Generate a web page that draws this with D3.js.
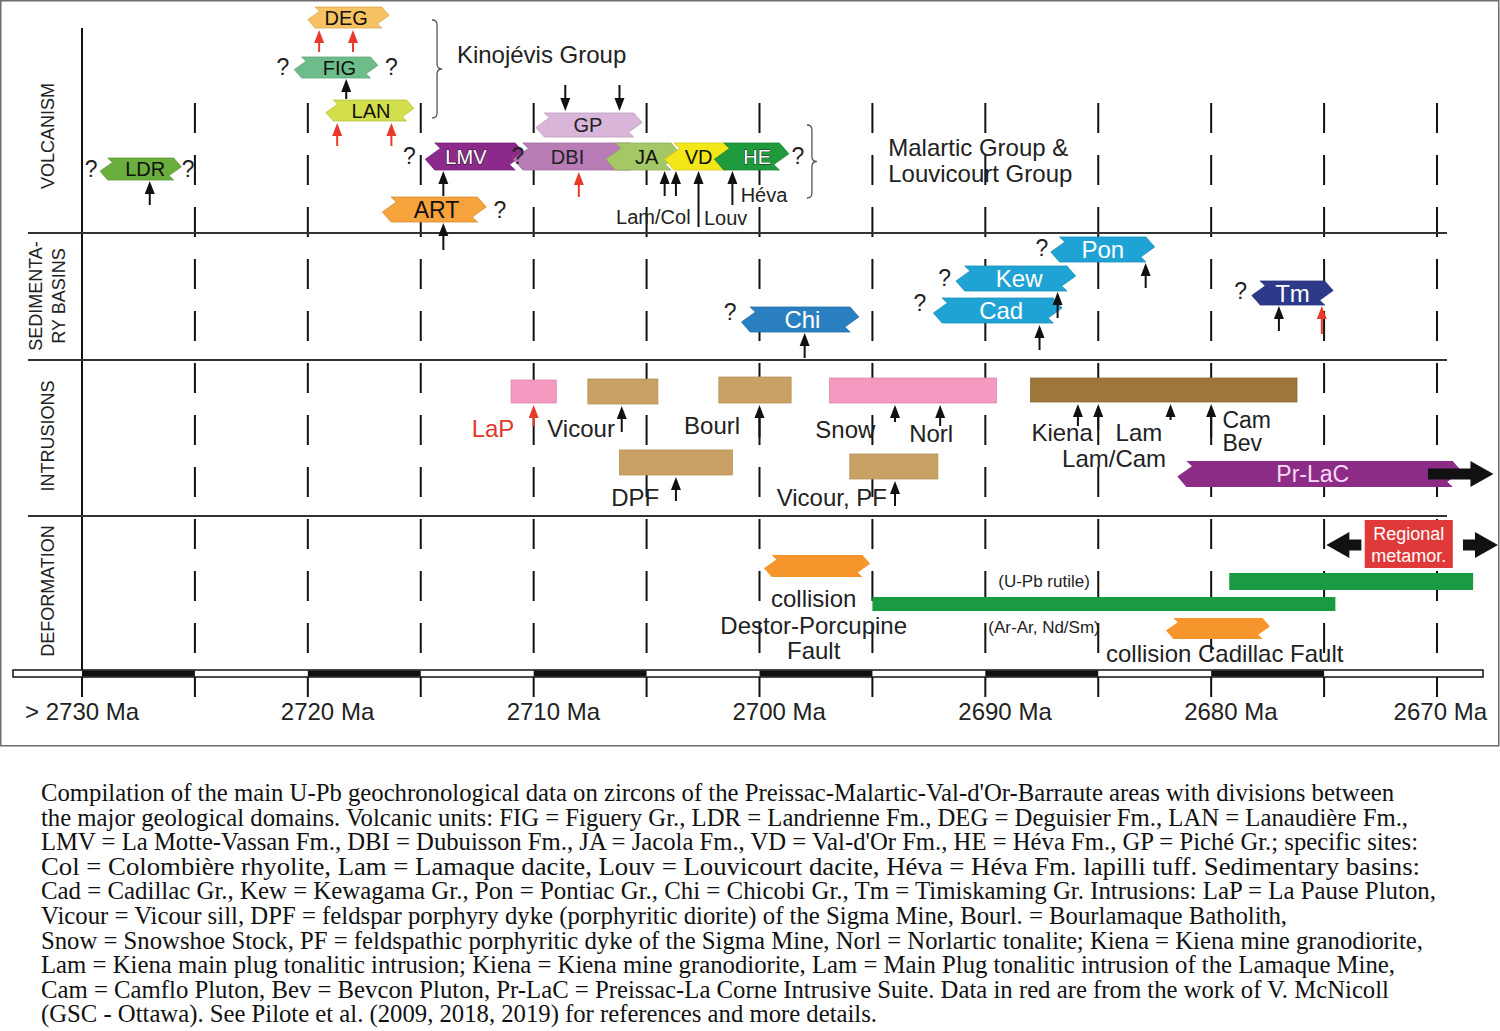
<!DOCTYPE html>
<html>
<head>
<meta charset="utf-8">
<script src="https://cdn.jsdelivr.net/npm/d3@7"></script>
<style>
  body { margin: 0; background: #fff; }
  svg { display: block; }
</style>
</head>
<body>
<div id="chart"></div>
<script>
// ---- data (ages in Ma) ----
var tickYears = [2730, 2725, 2720, 2715, 2710, 2705, 2700, 2695, 2690, 2685, 2680, 2675, 2670];
var labelYears = [2730, 2720, 2710, 2700, 2690, 2680, 2670];
var tickLabels = ["> 2730 Ma", "2720 Ma", "2710 Ma", "2700 Ma", "2690 Ma", "2680 Ma", "2670 Ma"];
var barStarts = [2730, 2720, 2710, 2700, 2690, 2680];

var domainNames = [["VOLCANISM"], ["SEDIMENTA-", "RY BASINS"], ["INTRUSIONS"], ["DEFORMATION"]];

// volcanic and sedimentary units
var unitNames = ["LDR", "DEG", "FIG", "LAN", "GP", "ART", "LMV", "DBI", "JA", "VD", "HE", "Chi", "Cad", "Kew", "Pon", "Tm"];
var unitStart = [2729.2, 2720.0, 2720.6, 2719.2, 2709.9, 2716.7, 2714.8, 2710.9, 2706.8, 2704.2, 2702.0, 2700.8, 2692.3, 2691.3, 2687.1, 2678.2];
var unitEnd   = [2725.6, 2716.4, 2716.9, 2715.3, 2705.2, 2712.1, 2710.4, 2705.3, 2703.5, 2701.1, 2698.7, 2695.6, 2686.6, 2686.0, 2682.5, 2674.6];
var unitLabelAge = [2727.2, 2718.3, 2718.6, 2717.2, 2707.6, 2714.3, 2713.0, 2708.5, 2705.0, 2702.7, 2700.1, 2698.1, 2689.3, 2688.5, 2684.8, 2676.4];

// intrusions (boxes)
var intrNames = ["LaP", "Vicour", "Bourl", "Snow/Norl", "DPF", "Vicour, PF", "Kiena/Lam/Cam/Bev"];
var intrStart = [2711.0, 2707.6, 2701.8, 2696.9, 2706.2, 2696.0, 2688.0];
var intrEnd   = [2709.0, 2704.5, 2698.6, 2689.5, 2701.2, 2692.1, 2676.2];
var prLaC = [2681.5, 2668.9];

// deformation events
var defNames = ["Destor-Porcupine collision", "Ar-Ar, Nd/Sm", "U-Pb rutile", "Cadillac collision"];
var defStart = [2699.8, 2695.0, 2679.2, 2682.0];
var defEnd   = [2695.1, 2674.5, 2668.4, 2677.4];
var metamor = [2673.2, 2669.3];

// dated samples (arrows); red = V. McNicoll data
var arrowAges = [2727.0, 2719.5, 2718.0, 2718.3, 2718.7, 2716.3, 2714.0, 2714.0, 2708.0, 2708.6, 2706.2,
                 2704.2, 2703.7, 2702.7, 2701.2,
                 2682.9, 2686.8, 2687.6, 2698.0, 2677.0, 2675.1,
                 2710.0, 2706.1, 2700.0, 2694.0, 2692.0, 2703.7, 2694.0, 2685.9, 2685.0, 2681.8, 2680.0];
var arrowRed  = [0, 1, 1, 0, 1, 1, 0, 0, 1, 0, 0,
                 0, 0, 0, 0,
                 0, 0, 0, 0, 0, 1,
                 1, 0, 0, 0, 0, 0, 0, 0, 0, 0, 0];

// "?" uncertain limits
var queryAges = [2729.6, 2725.3, 2721.1, 2716.3, 2715.5, 2710.7, 2698.3, 2711.5, 2687.5, 2691.8, 2692.9, 2701.3, 2678.7];

// text annotations: text, age
var notes = [
  ["Kinojévis Group", 2713.4], ["Malartic Group &", 2694.3], ["Louvicourt Group", 2694.3],
  ["Lam/Col", 2704.7], ["Louv", 2701.5], ["Héva", 2699.8],
  ["LaP", 2711.8], ["Vicour", 2707.9], ["Bourl", 2702.1], ["Snow", 2696.2], ["Norl", 2692.4],
  ["DPF", 2705.5], ["Vicour, PF", 2696.8], ["Kiena", 2686.6], ["Lam", 2683.2], ["Lam/Cam", 2684.3],
  ["Cam", 2679.5], ["Bev", 2679.5],
  ["collision", 2697.6], ["Destor-Porcupine", 2697.6], ["Fault", 2697.6],
  ["(U-Pb rutile)", 2687.4], ["(Ar-Ar, Nd/Sm)", 2687.4], ["collision Cadillac Fault", 2679.4]
];

var caption = [
  "Compilation of the main U-Pb geochronological data on zircons of the Preissac-Malartic-Val-d'Or-Barraute areas with divisions between",
  "the major geological domains. Volcanic units: FIG = Figuery Gr., LDR = Landrienne Fm., DEG = Deguisier Fm., LAN = Lanaudière Fm.,",
  "LMV = La Motte-Vassan Fm., DBI = Dubuisson Fm., JA = Jacola Fm., VD = Val-d'Or Fm., HE = Héva Fm., GP = Piché Gr.; specific sites:",
  "Col = Colombière rhyolite, Lam = Lamaque dacite, Louv = Louvicourt dacite, Héva = Héva Fm. lapilli tuff. Sedimentary basins:",
  "Cad = Cadillac Gr., Kew = Kewagama Gr., Pon = Pontiac Gr., Chi = Chicobi Gr.,  Tm = Timiskaming Gr. Intrusions: LaP = La Pause Pluton,",
  "Vicour = Vicour sill, DPF = feldspar porphyry dyke (porphyritic diorite) of the Sigma Mine, Bourl. = Bourlamaque Batholith,",
  "Snow = Snowshoe Stock, PF = feldspathic porphyritic dyke of the Sigma Mine, Norl = Norlartic tonalite; Kiena = Kiena mine granodiorite,",
  "Lam = Kiena main plug tonalitic intrusion; Kiena = Kiena mine granodiorite, Lam = Main Plug tonalitic intrusion of the Lamaque Mine,",
  "Cam = Camflo Pluton, Bev = Bevcon Pluton, Pr-LaC = Preissac-La Corne Intrusive Suite. Data in red are from the work of V. McNicoll",
  "(GSC - Ottawa). See Pilote et al. (2009, 2018, 2019) for references and more details."
];

// ---- layout ----
var width = 1500, height = 1031;
var font = "'Liberation Sans', Arial, sans-serif";
var domainY = [28, 233, 360, 516, 670];
var domainLabelPos = [[[54, 136]], [[42, 296], [65, 296]], [[54, 436]], [[54, 591]]];
var unitStyle = {
  LDR: {y: 158, h: 22, fill: "#6aae3d", color: "#111", size: 20},
  DEG: {y: 7, h: 21, fill: "#f7c262", color: "#111", size: 20},
  FIG: {y: 57, h: 21, fill: "#6dbd8a", color: "#111", size: 20},
  LAN: {y: 100, h: 21, fill: "#d2df4a", color: "#111", size: 20},
  GP:  {y: 113, h: 24, fill: "#dab5da", color: "#222", size: 20},
  ART: {y: 197, h: 25, fill: "#f6a33c", color: "#111", size: 23},
  LMV: {y: 143, h: 27, fill: "#8b2a8a", color: "#fff", size: 20, outline: true},
  DBI: {y: 143, h: 27, fill: "#b87db7", color: "#222", size: 20},
  JA:  {y: 143, h: 27, fill: "#a5c866", color: "#111", size: 20},
  VD:  {y: 143, h: 27, fill: "#f3e619", color: "#111", size: 20},
  HE:  {y: 143, h: 27, fill: "#1f9a3d", color: "#fff", size: 20, outline: true},
  Chi: {y: 307, h: 25, fill: "#2a7fc0", color: "#fff", size: 24},
  Cad: {y: 298, h: 25, fill: "#1fa3d4", color: "#fff", size: 24},
  Kew: {y: 266, h: 25, fill: "#1fa3d4", color: "#fff", size: 24},
  Pon: {y: 237, h: 25, fill: "#1fa3d4", color: "#fff", size: 24},
  Tm:  {y: 281, h: 24, fill: "#2d3a8a", color: "#fff", size: 24}
};
var intrStyle = [
  {y: 380, h: 23, fill: "#f49ac0"}, {y: 379, h: 25, fill: "#caa165"}, {y: 377, h: 26, fill: "#caa165"},
  {y: 378, h: 25, fill: "#f49ac0"}, {y: 450, h: 25, fill: "#caa165"}, {y: 454, h: 25, fill: "#caa165"},
  {y: 378, h: 24, fill: "#9d7739"}
];
var defStyle = [
  {y: 555, h: 22, fill: "#f5952b", tag: true}, {y: 597, h: 14, fill: "#1a9a43"},
  {y: 573, h: 17, fill: "#1a9a43"}, {y: 618, h: 21, fill: "#f5952b", tag: true}
];
// arrow tail / head y
var arrowY = [[205, 181], [52, 30], [52, 30], [99, 79], [146, 123], [146, 123], [196, 171], [250, 223], [197, 172], [85, 111], [85, 111],
              [196, 171], [196, 171], [227, 171], [205, 171],
              [288, 263], [318, 292], [350, 325], [358, 333], [331, 306], [334, 306],
              [426, 405], [432, 406], [437, 405], [422, 405], [426, 405], [501, 477], [506, 481], [426, 404], [430, 404], [420, 404], [437, 404]];
var queryY = [169, 169, 67, 67, 156, 156, 156, 210, 248, 278, 303, 312, 291];
var noteStyle = [
  {y: 54, a: "start", s: 24}, {y: 147, a: "start", s: 24}, {y: 173, a: "start", s: 24},
  {y: 217, a: "middle", s: 20}, {y: 218, a: "middle", s: 20}, {y: 195, a: "middle", s: 20},
  {y: 428, a: "middle", s: 24, c: "#e0392e"}, {y: 428, a: "middle", s: 24}, {y: 425, a: "middle", s: 24},
  {y: 429, a: "middle", s: 24}, {y: 433, a: "middle", s: 24},
  {y: 497, a: "middle", s: 24}, {y: 497, a: "middle", s: 24}, {y: 432, a: "middle", s: 24},
  {y: 432, a: "middle", s: 24}, {y: 458, a: "middle", s: 24}, {y: 420, a: "start", s: 23}, {y: 443, a: "start", s: 23},
  {y: 598, a: "middle", s: 24}, {y: 625, a: "middle", s: 24}, {y: 650, a: "middle", s: 24},
  {y: 581, a: "middle", s: 17}, {y: 627, a: "middle", s: 17}, {y: 653, a: "middle", s: 24}
];
var captionEnds = [1394, 1408, 1418, 1420, 1436, 1287, 1423, 1395, 1389, 877];

var svg = d3.select("#chart").append("svg")
  .attr("width", width)
  .attr("height", height)
  .style("font-family", font);

var x = d3.scaleLinear().domain([2730, 2670]).range([82, 1437]);

// outer frame
svg.append("rect")
  .attr("x", 0.75).attr("y", 0.75).attr("width", 1498).attr("height", 745)
  .attr("fill", "none").attr("stroke", "#6d6d6d").attr("stroke-width", 1.5);

// time lines
svg.append("g").selectAll("line")
  .data(tickYears)
  .enter()
  .append("line")
  .attr("x1", function (d) { return x(d); })
  .attr("x2", function (d) { return x(d); })
  .attr("y1", function (d, i) { return i === 0 ? 28 : 103; })
  .attr("y2", 697)
  .attr("stroke", "#111")
  .attr("stroke-width", 2)
  .attr("stroke-dasharray", function (d, i) { return i === 0 ? null : "30,22"; });

// domain dividers
svg.append("g").selectAll("line")
  .data(domainY.slice(1, 4))
  .enter()
  .append("line")
  .attr("x1", 28).attr("x2", 1447)
  .attr("y1", function (d) { return d; })
  .attr("y2", function (d) { return d; })
  .attr("stroke", "#333").attr("stroke-width", 2);

// domain labels
domainNames.forEach(function (lines, i) {
  lines.forEach(function (t, j) {
    var p = domainLabelPos[i][j];
    svg.append("text")
      .attr("transform", "translate(" + p[0] + "," + p[1] + ") rotate(-90)")
      .attr("text-anchor", "middle")
      .style("font-size", "18px")
      .style("fill", "#222")
      .text(t);
  });
});

// axis bar
svg.append("rect")
  .attr("x", 13).attr("y", 670).attr("width", 1470).attr("height", 7)
  .attr("fill", "#fff").attr("stroke", "#111").attr("stroke-width", 1.5);
svg.append("g").selectAll("rect")
  .data(barStarts)
  .enter()
  .append("rect")
  .attr("x", function (d) { return x(d); })
  .attr("width", function (d) { return x(d - 5) - x(d); })
  .attr("y", 670.5).attr("height", 6)
  .attr("fill", "#111");

// axis labels
svg.append("g").selectAll("text")
  .data(labelYears)
  .enter()
  .append("text")
  .attr("x", function (d, i) {
    if (i === 0) return x(d) - 57;
    if (i === labelYears.length - 1) return x(d) + 50;
    return x(d) - 27;
  })
  .attr("y", 720)
  .attr("text-anchor", function (d, i) { return i === labelYears.length - 1 ? "end" : "start"; })
  .style("font-size", "24px")
  .style("fill", "#222")
  .text(function (d, i) { return tickLabels[i]; });

// ribbon shaped tag between x0 and x1
function tagPath(x0, x1, t, h) {
  var d = h * 0.7, b = t + h;
  var pts = [
    [x0 + 0.5 * d, t], [x1 - 0.5 * d, t], [x1, t + 0.4 * h], [x1 - 0.8 * d, t + 0.8 * h], [x1 - 0.5 * d, b],
    [x0 + 0.5 * d, b], [x0, t + 0.6 * h], [x0 + 0.8 * d, t + 0.2 * h]
  ];
  return "M" + pts.map(function (p) { return p[0] + "," + p[1]; }).join("L") + "Z";
}

// units
var units = svg.append("g");
unitNames.forEach(function (name, i) {
  var st = unitStyle[name];
  units.append("path")
    .attr("d", tagPath(x(unitStart[i]), x(unitEnd[i]), st.y, st.h))
    .attr("fill", st.fill)
    .attr("stroke", d3.color(st.fill).darker(0.4))
    .attr("stroke-width", 0.8);
  var lbl = units.append("text")
    .attr("x", x(unitLabelAge[i]))
    .attr("y", st.y + st.h / 2)
    .attr("dy", "0.36em")
    .attr("text-anchor", "middle")
    .style("font-size", st.size + "px")
    .style("fill", st.color)
    .text(name);
  if (st.outline) lbl.style("stroke", "#1a1a1a").style("stroke-width", 0.9).style("paint-order", "stroke");
});

// intrusion boxes
svg.append("g").selectAll("rect")
  .data(intrNames)
  .enter()
  .append("rect")
  .attr("x", function (d, i) { return x(intrStart[i]); })
  .attr("width", function (d, i) { return x(intrEnd[i]) - x(intrStart[i]); })
  .attr("y", function (d, i) { return intrStyle[i].y; })
  .attr("height", function (d, i) { return intrStyle[i].h; })
  .attr("fill", function (d, i) { return intrStyle[i].fill; })
  .attr("stroke", function (d, i) { return d3.color(intrStyle[i].fill).darker(0.3); })
  .attr("stroke-width", 0.8);

// Preissac-La Corne suite
svg.append("path")
  .attr("d", tagPath(x(prLaC[0]), x(prLaC[1]), 461, 26))
  .attr("fill", "#8d2c87");
svg.append("text")
  .attr("x", x(2675.5)).attr("y", 474).attr("dy", "0.36em")
  .attr("text-anchor", "middle")
  .style("font-size", "23px").style("fill", "#f7d9f2")
  .text("Pr-LaC");

// thick black arrows
function bigArrow(xa, xb, cy, dir) {
  var head = 23, sh = 5.5, hh = 13;
  var xh = dir > 0 ? xb - head : xa + head;
  var pts = dir > 0
    ? [[xa, cy - sh], [xh, cy - sh], [xh, cy - hh], [xb, cy], [xh, cy + hh], [xh, cy + sh], [xa, cy + sh]]
    : [[xb, cy - sh], [xh, cy - sh], [xh, cy - hh], [xa, cy], [xh, cy + hh], [xh, cy + sh], [xb, cy + sh]];
  svg.append("path")
    .attr("d", "M" + pts.map(function (p) { return p[0] + "," + p[1]; }).join("L") + "Z")
    .attr("fill", "#111");
}
bigArrow(x(2670.4), x(2667.5), 474, 1);

// deformation
defNames.forEach(function (name, i) {
  var st = defStyle[i];
  if (st.tag) {
    svg.append("path")
      .attr("d", tagPath(x(defStart[i]), x(defEnd[i]), st.y, st.h))
      .attr("fill", st.fill);
  } else {
    svg.append("rect")
      .attr("x", x(defStart[i])).attr("width", x(defEnd[i]) - x(defStart[i]))
      .attr("y", st.y).attr("height", st.h)
      .attr("fill", st.fill);
  }
});
svg.append("rect")
  .attr("x", x(metamor[0])).attr("width", x(metamor[1]) - x(metamor[0]))
  .attr("y", 520).attr("height", 48)
  .attr("fill", "#e0393a");
svg.append("text")
  .attr("x", x((metamor[0] + metamor[1]) / 2)).attr("y", 540)
  .attr("text-anchor", "middle").style("font-size", "18px").style("fill", "#fff")
  .text("Regional");
svg.append("text")
  .attr("x", x((metamor[0] + metamor[1]) / 2)).attr("y", 562)
  .attr("text-anchor", "middle").style("font-size", "18px").style("fill", "#fff")
  .text("metamor.");
bigArrow(x(2674.9), x(2673.35), 545, -1);
bigArrow(x(2668.85), x(2667.3), 545, 1);

// braces
function brace(bx, y0, y1, w) {
  var ym = (y0 + y1) / 2;
  return "M" + bx + "," + y0 + " Q" + (bx + w) + "," + y0 + " " + (bx + w) + "," + (y0 + w) +
    " L" + (bx + w) + "," + (ym - w) + " Q" + (bx + w) + "," + ym + " " + (bx + 2 * w) + "," + ym +
    " Q" + (bx + w) + "," + ym + " " + (bx + w) + "," + (ym + w) +
    " L" + (bx + w) + "," + (y1 - w) + " Q" + (bx + w) + "," + y1 + " " + bx + "," + y1;
}
svg.append("path").attr("d", brace(x(2714.5), 20, 118, 5))
  .attr("fill", "none").attr("stroke", "#555").attr("stroke-width", 1.3);
svg.append("path").attr("d", brace(x(2697.9), 125, 198, 5))
  .attr("fill", "none").attr("stroke", "#555").attr("stroke-width", 1.3);

// sample arrows
var arrows = svg.append("g");
arrowAges.forEach(function (age, i) {
  var col = arrowRed[i] ? "#e8392b" : "#111";
  var ax = x(age), y0 = arrowY[i][0], y1 = arrowY[i][1];
  var dir = y1 < y0 ? -1 : 1;
  arrows.append("line")
    .attr("x1", ax).attr("x2", ax)
    .attr("y1", y0).attr("y2", y1 - dir * 8)
    .attr("stroke", col).attr("stroke-width", 2);
  arrows.append("path")
    .attr("d", "M" + ax + "," + y1 + "L" + (ax - 5) + "," + (y1 - dir * 13) + "L" + (ax + 5) + "," + (y1 - dir * 13) + "Z")
    .attr("fill", col);
});

// question marks
svg.append("g").selectAll("text")
  .data(queryAges)
  .enter()
  .append("text")
  .attr("x", function (d) { return x(d); })
  .attr("y", function (d, i) { return queryY[i]; })
  .attr("dy", "0.36em")
  .attr("text-anchor", "middle")
  .style("font-size", "23px")
  .style("fill", "#222")
  .text("?");

// annotations
svg.append("g").selectAll("text")
  .data(notes)
  .enter()
  .append("text")
  .attr("x", function (d) { return x(d[1]); })
  .attr("y", function (d, i) { return noteStyle[i].y; })
  .attr("dy", "0.36em")
  .attr("text-anchor", function (d, i) { return noteStyle[i].a; })
  .style("font-size", function (d, i) { return noteStyle[i].s + "px"; })
  .style("fill", function (d, i) { return noteStyle[i].c || "#222"; })
  .text(function (d) { return d[0]; });

// caption
svg.append("g").selectAll("text")
  .data(caption)
  .enter()
  .append("text")
  .attr("x", 41)
  .attr("y", function (d, i) { return 801 + i * 24.6; })
  .attr("textLength", function (d, i) { return captionEnds[i] - 41; })
  .attr("lengthAdjust", "spacingAndGlyphs")
  .style("font-family", "'Liberation Serif', 'Times New Roman', serif")
  .style("font-size", "25px")
  .style("fill", "#111")
  .text(function (d) { return d; });
</script>
</body>
</html>
